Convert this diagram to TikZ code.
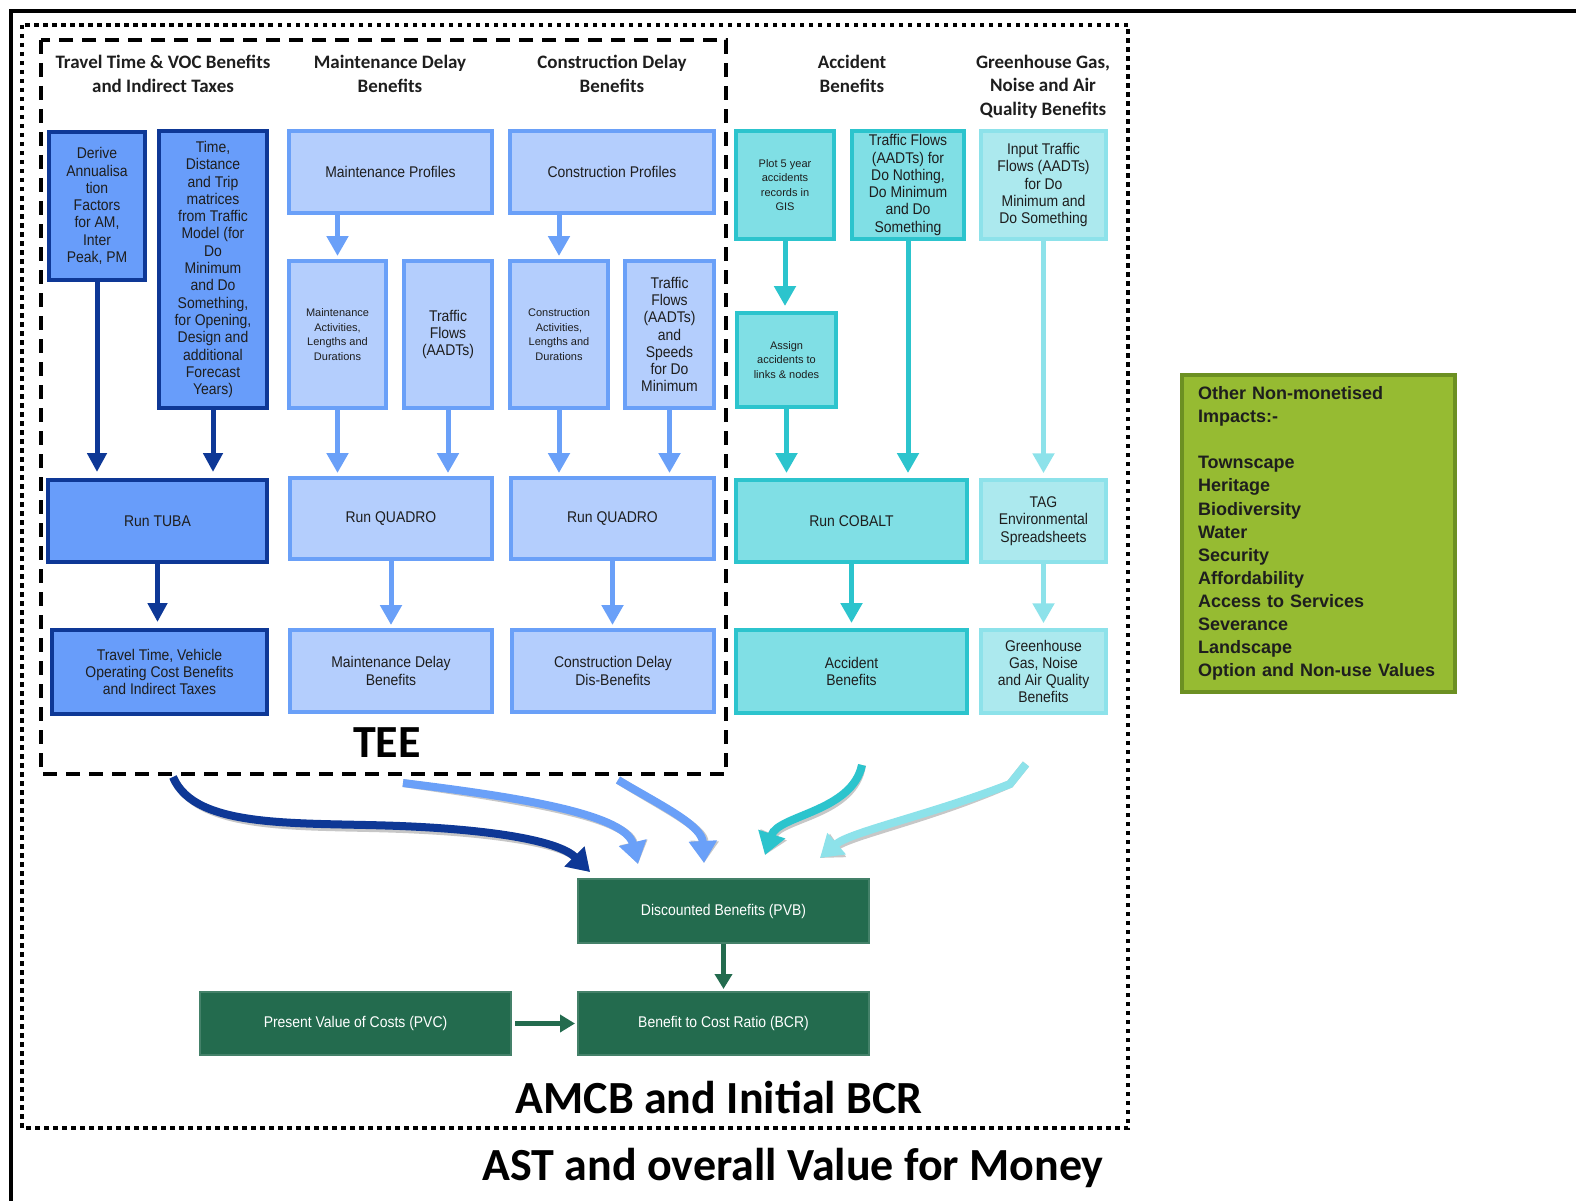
\documentclass[tikz,border=0pt]{standalone}
\usepackage{fontspec}
\setmainfont{Liberation Sans}
\newfontfamily\narrowfont{Liberation Sans}[FakeStretch=0.9]
\newfontfamily\headfont{Carlito}
\usetikzlibrary{arrows.meta,calc}

\definecolor{navyB}{RGB}{14,56,150}
\definecolor{midB}{RGB}{104,157,250}
\definecolor{lightB}{RGB}{180,206,253}
\definecolor{lightBline}{RGB}{106,160,248}
\definecolor{tealF}{RGB}{128,223,229}
\definecolor{tealL}{RGB}{44,196,205}
\definecolor{ltealF}{RGB}{172,233,238}
\definecolor{ltealL}{RGB}{141,226,234}
\definecolor{oliveF}{RGB}{150,187,50}
\definecolor{oliveL}{RGB}{108,144,34}
\definecolor{dgreen}{RGB}{35,107,78}
\definecolor{txt}{RGB}{30,30,30}

% box from corner (x1,y1) to corner (x2,y2), outer edges of the border
\newcommand\boxat[7]{\node[#1, minimum width={#4-#2-4}, minimum height={#5-#3-4}] (#6) at ({(#2+#4)/2},{(#3+#5)/2}) {#7};}

\tikzset{
  base/.style={rectangle, inner sep=2pt, align=center, line width=4pt, text=txt},
  midfont/.style={font=\narrowfont\fontsize{15.5}{17.3}\selectfont},
  smallfont/.style={font=\fontsize{11}{14.5}\selectfont},
  dbox/.style={base, draw=navyB, fill=midB, midfont},
  lbox/.style={base, draw=lightBline, fill=lightB, midfont},
  tbox/.style={base, draw=tealL, fill=tealF, midfont},
  ttbox/.style={base, line width=3.5pt, draw=ltealL, fill=ltealF, midfont},
  gbox/.style={base, line width=2pt, draw=dgreen!85!white, fill=dgreen, text=white,
    font=\narrowfont\fontsize{15.5}{17.3}\selectfont},
  obox/.style={base, line width=4pt, draw=oliveL, fill=oliveF, align=left,
    text width=241pt, inner xsep=16pt, font=\bfseries\fontsize{18}{23.1}\selectfont},
  heading/.style={align=center, text=txt, font=\headfont\bfseries\fontsize{19}{23.5}\selectfont},
  bigtitle/.style={text=black, font=\headfont\bfseries\fontsize{46}{50}\selectfont},
  arrN/.style={draw=navyB, line width=5pt, shorten >=6pt, -{Triangle[width=19pt,length=19pt]}},
  arrL/.style={draw=lightBline, line width=5pt, shorten >=3pt, -{Triangle[width=21pt,length=20pt]}},
  arrT/.style={draw=tealL, line width=5pt, shorten >=5pt, -{Triangle[width=21pt,length=20pt]}},
  arrLT/.style={draw=ltealL, line width=5pt, shorten >=5pt, -{Triangle[width=21pt,length=20pt]}},
  arrG/.style={draw=dgreen, line width=4.5pt, shorten >=2pt, -{Triangle[width=17pt,length=15pt]}},
  flow/.style={line width=8pt, -{Triangle[width=27pt,length=22pt]}},
  flowshadow/.style={flow, draw=black!40, opacity=0.55, xshift=3pt, yshift=-3pt},
}

\begin{document}
\begin{tikzpicture}[x=1pt, y=-1pt]
\useasboundingbox (0,0) rectangle (1576,1201);

% frames
\draw[line width=4.5pt] (11,1201) -- (11,11) -- (1576,11);
\draw[line width=4pt, dash pattern=on 4.5pt off 4.5pt] (22,25) rectangle (1128,1128);
\draw[line width=4pt, dash pattern=on 14pt off 9pt] (41,40) rectangle (726,774);

% column headings
\node[heading] (h1) at (163,74) {Travel Time \& VOC Benefits\\and Indirect Taxes};
\node[heading] (h2) at (390,74) {Maintenance Delay\\Benefits};
\node[heading] (h3) at (612,74) {Construction Delay\\Benefits};
\node[heading] (h4) at (852,74) {Accident\\Benefits};
\node[heading] (h5) at (1043,86.5) {Greenhouse Gas,\\Noise and Air\\Quality Benefits};

% travel time column
\boxat{dbox}{47}{130}{147}{282}{derive}{Derive\\Annualisa\\tion\\Factors\\for AM,\\Inter\\Peak, PM}
\boxat{dbox}{157}{129}{269}{410}{time}{Time,\\Distance\\and Trip\\matrices\\from Traffic\\Model (for\\Do\\Minimum\\and Do\\Something,\\for Opening,\\Design and\\additional\\Forecast\\Years)}
\boxat{dbox}{46}{478}{269}{564}{tuba}{Run TUBA}
\boxat{dbox}{50}{628}{269}{716}{ttvoc}{Travel Time, Vehicle\\Operating Cost Benefits\\and Indirect Taxes}

% maintenance column
\boxat{lbox}{287}{129}{494}{215}{mprof}{Maintenance Profiles}
\boxat{lbox,smallfont}{287}{259}{388}{410}{mact}{Maintenance\\Activities,\\Lengths and\\Durations}
\boxat{lbox}{402}{259}{494}{410}{mflow}{Traffic\\Flows\\(AADTs)}
\boxat{lbox}{288}{476}{494}{561}{mquad}{Run QUADRO}
\boxat{lbox}{288}{628}{494}{714}{mben}{Maintenance Delay\\Benefits}

% construction column
\boxat{lbox}{508}{129}{716}{215}{cprof}{Construction Profiles}
\boxat{lbox,smallfont}{508}{259}{610}{410}{cact}{Construction\\Activities,\\Lengths and\\Durations}
\boxat{lbox}{623}{259}{716}{410}{cflow}{Traffic\\Flows\\(AADTs)\\and\\Speeds\\for Do\\Minimum}
\boxat{lbox}{509}{476}{716}{561}{cquad}{Run QUADRO}
\boxat{lbox}{510}{628}{716}{714}{cben}{Construction Delay\\Dis-Benefits}

% accident column
\boxat{tbox,smallfont}{734}{129}{836}{241}{plot}{Plot 5 year\\accidents\\records in\\GIS}
\boxat{tbox}{850}{129}{966}{241}{aflow}{Traffic Flows\\(AADTs) for\\Do Nothing,\\Do Minimum\\and Do\\Something}
\boxat{tbox,smallfont}{735}{311}{838}{409}{assign}{Assign\\accidents to\\links \& nodes}
\boxat{tbox}{734}{478}{969}{564}{cobalt}{Run COBALT}
\boxat{tbox}{734}{628}{969}{715}{accben}{Accident\\Benefits}

% environment column
\boxat{ttbox}{979}{129}{1108}{241}{input}{Input Traffic\\Flows (AADTs)\\for Do\\Minimum and\\Do Something}
\boxat{ttbox}{979}{478}{1108}{564}{tag}{TAG\\Environmental\\Spreadsheets}
\boxat{ttbox}{979}{628}{1108}{715}{ghg}{Greenhouse\\Gas, Noise\\and Air Quality\\Benefits}

% non-monetised impacts
\boxat{obox}{1180}{373}{1457}{694}{other}{Other Non-monetised\\Impacts:-\\[23.1pt]Townscape\\Heritage\\Biodiversity\\Water\\Security\\Affordability\\Access to Services\\Severance\\Landscape\\Option and Non-use Values}

% appraisal boxes
\boxat{gbox}{576}{877}{871}{945}{pvb}{Discounted Benefits (PVB)}
\boxat{gbox}{198}{990}{513}{1057}{pvc}{Present Value of Costs (PVC)}
\boxat{gbox}{576}{990}{871}{1057}{bcr}{Benefit to Cost Ratio (BCR)}

% titles
\node[bigtitle] (tee) at (387,743) {TEE};
\node[bigtitle] (amcb) at (719,1097) {AMCB and Initial BCR};
\node[bigtitle] (ast) at (793,1168) {AST and overall Value for Money};

% straight connectors
\draw[arrN] (derive.south) -- (derive.south |- tuba.north);
\draw[arrN] (time.south) -- (time.south |- tuba.north);
\draw[arrN] (tuba.south) -- (tuba.south |- ttvoc.north);

\draw[arrL] (mact.north |- mprof.south) -- (mact.north);
\draw[arrL] (mact.south) -- (mact.south |- mquad.north);
\draw[arrL] (mflow.south) -- (mflow.south |- mquad.north);
\draw[arrL] (mquad.south) -- (mquad.south |- mben.north);

\draw[arrL] (cact.north |- cprof.south) -- (cact.north);
\draw[arrL] (cact.south) -- (cact.south |- cquad.north);
\draw[arrL] (cflow.south) -- (cflow.south |- cquad.north);
\draw[arrL] (cquad.south) -- (cquad.south |- cben.north);

\draw[arrT] (plot.south) -- (plot.south |- assign.north);
\draw[arrT] (assign.south) -- (assign.south |- cobalt.north);
\draw[arrT] (aflow.south) -- (aflow.south |- cobalt.north);
\draw[arrT] (cobalt.south) -- (cobalt.south |- accben.north);

\draw[arrLT] (input.south) -- (input.south |- tag.north);
\draw[arrLT] (tag.south) -- (tag.south |- ghg.north);

\draw[arrG] (pvb.south) -- (pvb.south |- bcr.north);
\draw[arrG, shorten <=3pt] (pvc.east) -- (pvc.east -| bcr.west);

% benefit streams into the discounted benefits
\coordinate (s1) at (173,777);  \coordinate (e1) at (590,872);
\coordinate (s2) at (403,783);  \coordinate (e2) at (638,864);
\coordinate (s3) at (618,780);  \coordinate (e3) at (704,863);
\coordinate (s4) at (862,765);  \coordinate (e4) at (765,855);
\coordinate (s5) at (1026,764); \coordinate (k5) at (1010,784); \coordinate (e5) at (820,858);

\draw[flowshadow] (s1) .. controls (195,830) and (300,822) .. (400,826) .. controls (500,830) and (560,842) .. (e1);
\draw[flowshadow] (s2) .. controls (500,795) and (625,812) .. (e2);
\draw[flowshadow] (s3) .. controls (660,805) and (702,825) .. (e3);
\draw[flowshadow] (s4) .. controls (852,812) and (778,815) .. (e4);
\draw[flowshadow] (s5) -- (k5) .. controls (930,815) and (850,832) .. (e5);

\draw[flow, draw=navyB] (s1) .. controls (195,830) and (300,822) .. (400,826) .. controls (500,830) and (560,842) .. (e1);
\draw[flow, draw=lightBline] (s2) .. controls (500,795) and (625,812) .. (e2);
\draw[flow, draw=lightBline] (s3) .. controls (660,805) and (702,825) .. (e3);
\draw[flow, draw=tealL] (s4) .. controls (852,812) and (778,815) .. (e4);
\draw[flow, draw=ltealL] (s5) -- (k5) .. controls (930,815) and (850,832) .. (e5);
\end{tikzpicture}
\end{document}
